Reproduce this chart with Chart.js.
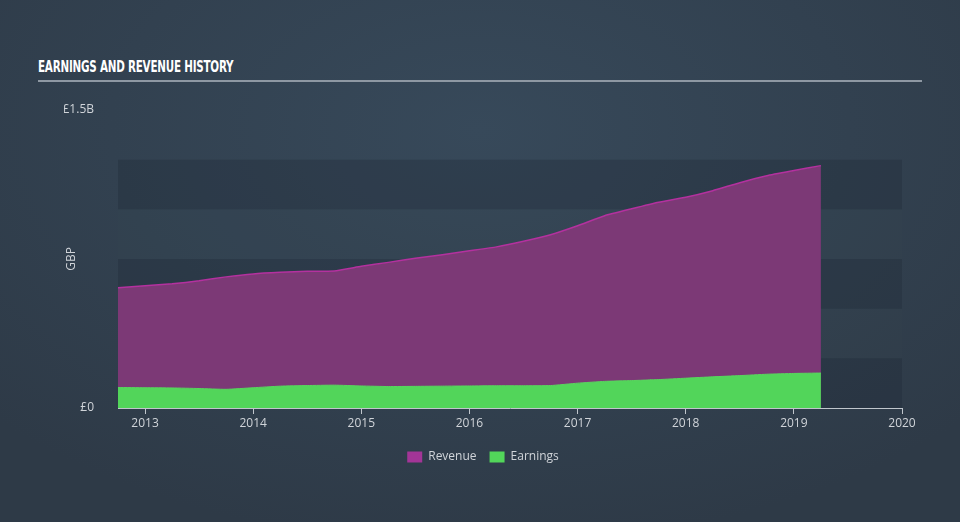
<!DOCTYPE html>
<html>
<head>
<meta charset="utf-8">
<script src="https://cdn.jsdelivr.net/npm/chart.js@4/dist/chart.umd.min.js"></script>
<style>
  html, body { margin: 0; padding: 0; }
  body {
    width: 960px; height: 522px; overflow: hidden; position: relative;
    background: radial-gradient(ellipse 70% 80% at 50% 25%, #37495a 0%, #324150 55%, #2e3a47 100%);
    font-family: "Open Sans", "DejaVu Sans", sans-serif;
  }
  #title {
    position: absolute; left: 38px; top: 57px;
    color: #ffffff; font-family: "DejaVu Sans Condensed", "DejaVu Sans", sans-serif;
    font-weight: bold; font-size: 16px; letter-spacing: -0.3px;
    transform: scaleX(0.72); transform-origin: left top;
    white-space: nowrap;
  }
  #rule {
    position: absolute; left: 38px; top: 80px; width: 884px; height: 2px;
    background: #8e98a3;
  }
  #wrap { position: absolute; left: 0; top: 0; width: 960px; height: 522px; }
</style>
</head>
<body>
<div id="title">EARNINGS AND REVENUE HISTORY</div>
<div id="rule"></div>
<div id="wrap"><canvas id="chart"></canvas></div>
<script>
// quarterly dates, as fractional years
const dates = [
  2012.75, 2013.0, 2013.25, 2013.5, 2013.75, 2014.0, 2014.25, 2014.5, 2014.75,
  2015.0, 2015.25, 2015.5, 2015.75, 2016.0, 2016.25, 2016.5, 2016.75,
  2017.0, 2017.25, 2017.5, 2017.75, 2018.0, 2018.25, 2018.5, 2018.75,
  2019.0, 2019.25
];
// values in GBP billions
const revenue = [
  0.605, 0.615, 0.625, 0.640, 0.660, 0.675, 0.683, 0.688, 0.690,
  0.713, 0.733, 0.754, 0.771, 0.791, 0.811, 0.839, 0.872,
  0.917, 0.968, 1.003, 1.036, 1.061, 1.094, 1.134, 1.169,
  1.195, 1.220
];
const earnings = [
  0.103, 0.102, 0.101, 0.098, 0.094, 0.102, 0.110, 0.113, 0.115,
  0.111, 0.108, 0.109, 0.110, 0.111, 0.112, 0.112, 0.113,
  0.125, 0.134, 0.138, 0.143, 0.150, 0.157, 0.163, 0.170,
  0.174, 0.176
];
const yearTicks = [2013, 2014, 2015, 2016, 2017, 2018, 2019, 2020];
const valueTicks = [0, 1.5];
const bandEdges = [0, 0.25, 0.5, 0.75, 1.0, 1.25];

// alternating background bands in the plot area
const bandsPlugin = {
  id: 'bands',
  beforeDatasetsDraw(chart) {
    const ctx = chart.ctx;
    const x = chart.scales.x, y = chart.scales.y;
    ctx.save();
    for (let i = 0; i < bandEdges.length - 1; i++) {
      const top = y.getPixelForValue(bandEdges[i + 1]);
      const bot = y.getPixelForValue(bandEdges[i]);
      ctx.fillStyle = (i % 2 === 0) ? 'rgba(30,40,52,0.3)' : 'rgba(55,70,85,0.12)';
      ctx.fillRect(x.left, top, x.right - x.left, bot - top);
    }
    ctx.restore();
  }
};

const tickColor = '#d0d4d9';

new Chart(document.getElementById('chart'), {
  type: 'line',
  data: {
    datasets: [
      {
        label: 'Revenue',
        data: dates.map((d, i) => ({ x: d, y: revenue[i] })),
        borderColor: '#b4319f',
        borderWidth: 1.5,
        backgroundColor: '#a33597',
        fill: { target: 'origin', above: 'rgba(124,57,118,1)' },
        pointRadius: 0,
        tension: 0.15,
        order: 2
      },
      {
        label: 'Earnings',
        data: dates.map((d, i) => ({ x: d, y: earnings[i] })),
        borderColor: '#58d65e',
        borderWidth: 1,
        backgroundColor: '#52d65a',
        fill: { target: 'origin', above: '#52d55a' },
        pointRadius: 0,
        tension: 0.15,
        order: 1
      }
    ]
  },
  options: {
    responsive: true,
    maintainAspectRatio: false,
    animation: false,
    layout: { padding: { left: 64, right: 58, top: 110, bottom: 49 } },
    plugins: {
      tooltip: { enabled: false },
      legend: {
        position: 'bottom',
        labels: {
          color: tickColor,
          boxWidth: 15,
          boxHeight: 11,
          padding: 13,
          font: { family: 'Open Sans', size: 12 },
          generateLabels(chart) {
            return chart.data.datasets.map((ds, i) => ({
              text: ds.label,
              fillStyle: ds.backgroundColor,
              strokeStyle: ds.backgroundColor,
              lineWidth: 0,
              fontColor: tickColor,
              datasetIndex: i
            }));
          }
        }
      }
    },
    scales: {
      x: {
        type: 'linear',
        min: 2012.75,
        max: 2020,
        afterBuildTicks: (s) => { s.ticks = yearTicks.map(v => ({ value: v })); },
        afterFit: (s) => { s.height = 30; },
        ticks: {
          color: tickColor,
          font: { family: 'Open Sans', size: 12 },
          maxRotation: 0,
          padding: 2,
          callback: (v) => String(v)
        },
        grid: { display: true, drawOnChartArea: false, color: '#c0c6cc', tickLength: 6 },
        border: { display: true, color: '#c0c6cc', width: 1 }
      },
      y: {
        min: 0,
        max: 1.5,
        afterBuildTicks: (s) => { s.ticks = valueTicks.map(v => ({ value: v })); },
        afterFit: (s) => { s.width = 54; },
        title: {
          display: true,
          text: 'GBP',
          color: tickColor,
          font: { family: 'Open Sans', size: 12 },
          padding: 0
        },
        ticks: {
          color: tickColor,
          font: { family: 'Open Sans', size: 12 },
          padding: 16,
          callback: (v) => v === 0 ? '£0' : '£' + v + 'B'
        },
        grid: { display: false },
        border: { display: false }
      }
    }
  },
  plugins: [bandsPlugin]
});
</script>
</body>
</html>
